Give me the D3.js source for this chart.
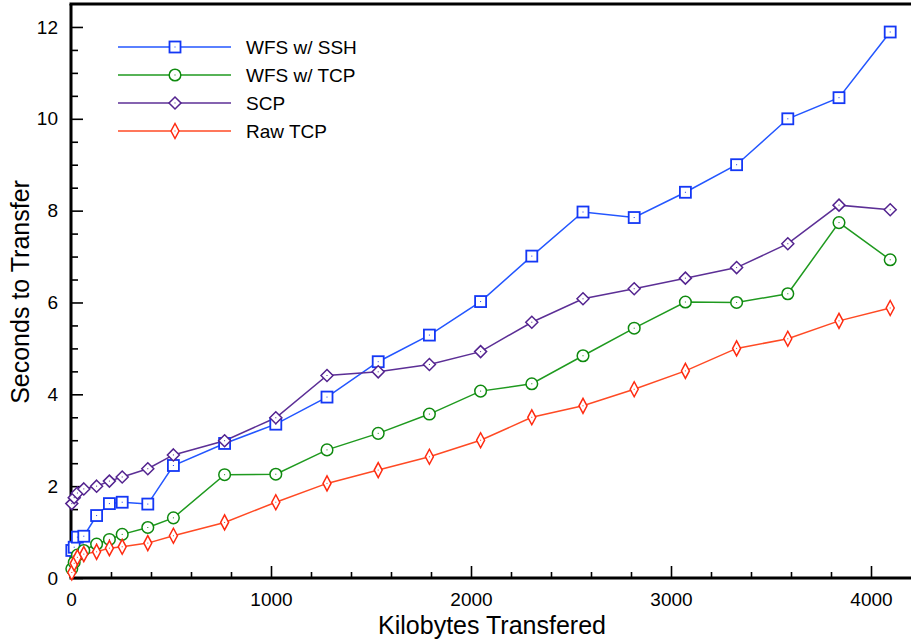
<!DOCTYPE html>
<html>
<head>
<meta charset="utf-8">
<script src="https://cdn.jsdelivr.net/npm/d3@7"></script>
<style>
  body { margin: 0; background: #fff; }
  svg text { font-family: "Liberation Sans", Arial, Helvetica, sans-serif; fill: #000; }
</style>
</head>
<body>
<div id="chart"></div>
<script>
// kilobytes on the x axis
const kilobytes = [4, 16, 32, 64, 128, 192, 256, 384, 512, 768, 1024, 1280, 1536, 1792,
  2048, 2304, 2560, 2816, 3072, 3328, 3584, 3840, 4096];

// seconds for each series
const wfsSsh = [0.6, 0.67, 0.89, 0.91, 1.36, 1.62, 1.65, 1.61, 2.45, 2.93, 3.35, 3.94, 4.71,
  5.29, 6.02, 7.01, 7.97, 7.85, 8.4, 9.0, 10.0, 10.46, 11.89];
const wfsTcp = [0.2, 0.34, 0.5, 0.6, 0.74, 0.84, 0.95, 1.1, 1.31, 2.25, 2.26, 2.79, 3.15,
  3.57, 4.07, 4.23, 4.84, 5.44, 6.01, 6.0, 6.19, 7.74, 6.93];
const scp = [1.62, 1.75, 1.85, 1.94, 2.0, 2.11, 2.2, 2.38, 2.68, 2.99, 3.49, 4.41, 4.49,
  4.65, 4.93, 5.57, 6.08, 6.3, 6.53, 6.76, 7.28, 8.12, 8.02];
const rawTcp = [0.12, 0.32, 0.45, 0.52, 0.57, 0.65, 0.68, 0.76, 0.92, 1.21, 1.65, 2.06, 2.35,
  2.64, 3.0, 3.5, 3.75, 4.11, 4.51, 5.0, 5.21, 5.6, 5.88];

const seriesNames = ["WFS w/ SSH", "WFS w/ TCP", "SCP", "Raw TCP"];
const xMajorTicks = [0, 1000, 2000, 3000, 4000];
const yMajorTicks = [0, 2, 4, 6, 8, 10, 12];

const series = [
  {name: seriesNames[0], values: wfsSsh, color: "#2356ff", markColor: "#1438f5", shape: "square"},
  {name: seriesNames[1], values: wfsTcp, color: "#1f9a1f", markColor: "#0f8a0f", shape: "circle"},
  {name: seriesNames[2], values: scp, color: "#5c2f96", markColor: "#53238f", shape: "diamond"},
  {name: seriesNames[3], values: rawTcp, color: "#ff4a24", markColor: "#ff2a10", shape: "thin"}
];

const width = 912, height = 640;
const margin = {top: 4, right: 1, bottom: 62, left: 71};
const w = width - margin.left - margin.right;
const h = height - margin.top - margin.bottom;

const svg = d3.select("#chart").append("svg")
  .attr("width", width)
  .attr("height", height);

const g = svg.append("g")
  .attr("transform", "translate(" + margin.left + "," + margin.top + ")");

const x = d3.scaleLinear().domain([0, 4200]).range([0, w]);
const y = d3.scaleLinear().domain([0, 12.5]).range([h, 0]);

// minor ticks
g.append("g")
  .attr("transform", "translate(0," + h + ")")
  .call(d3.axisBottom(x).tickValues(d3.range(200, 4200, 200).filter(v => v % 1000 !== 0))
    .tickSize(-6).tickSizeOuter(0).tickFormat(""))
  .call(a => a.select(".domain").remove());
g.append("g")
  .call(d3.axisLeft(y).tickValues(d3.range(0.5, 12.5, 0.5).filter(v => v % 2 !== 0))
    .tickSize(-7).tickSizeOuter(0).tickFormat(""))
  .call(a => a.select(".domain").remove());

// major ticks
const xAxisG = g.append("g")
  .attr("transform", "translate(0," + h + ")")
  .call(d3.axisBottom(x).tickValues(xMajorTicks).tickFormat(d3.format("d"))
    .tickSize(-12).tickSizeOuter(0).tickPadding(15));
xAxisG.select(".domain").remove();
xAxisG.selectAll("text").style("font-size", "19px");

const yAxisG = g.append("g")
  .call(d3.axisLeft(y).tickValues(yMajorTicks).tickFormat(d3.format("d"))
    .tickSize(-12).tickSizeOuter(0).tickPadding(13));
yAxisG.select(".domain").remove();
yAxisG.selectAll("text").style("font-size", "19px");

g.selectAll(".tick line").attr("stroke", "#000").attr("stroke-width", 1.6);

// frame: left, bottom and top
g.append("line").attr("x1", 0).attr("x2", 0).attr("y1", 0).attr("y2", h)
  .attr("stroke", "#000").attr("stroke-width", 3);
g.append("line").attr("x1", -1.5).attr("x2", w).attr("y1", h).attr("y2", h)
  .attr("stroke", "#000").attr("stroke-width", 3);
g.append("line").attr("x1", -1.5).attr("x2", w).attr("y1", 0).attr("y2", 0)
  .attr("stroke", "#000").attr("stroke-width", 3);

// axis labels
svg.append("text")
  .attr("text-anchor", "middle")
  .attr("x", 492)
  .attr("y", 634)
  .style("font-size", "25px")
  .text("Kilobytes Transfered");

svg.append("text")
  .attr("text-anchor", "middle")
  .attr("transform", "rotate(-90)")
  .attr("x", -292)
  .attr("y", 29)
  .style("font-size", "25px")
  .text("Seconds to Transfer");

function drawMarker(sel, shape, color) {
  if (shape === "square") {
    sel.append("rect").attr("x", -5.5).attr("y", -5.5).attr("width", 11).attr("height", 11)
      .attr("fill", "#fff").attr("stroke", color).attr("stroke-width", 1.8);
  } else if (shape === "circle") {
    sel.append("circle").attr("r", 5.8)
      .attr("fill", "#fff").attr("stroke", color).attr("stroke-width", 1.5);
  } else if (shape === "diamond") {
    sel.append("path").attr("d", "M0,-6L6,0L0,6L-6,0Z")
      .attr("fill", "#fff").attr("stroke", color).attr("stroke-width", 1.5);
  } else {
    sel.append("path").attr("d", "M0,-7.5L4,0L0,7.5L-4,0Z")
      .attr("fill", "#fff").attr("stroke", color).attr("stroke-width", 1.5);
  }
  sel.append("rect").attr("x", -0.5).attr("y", -0.5).attr("width", 1).attr("height", 1)
    .attr("fill", color);
}

const line = d3.line()
  .x((d, i) => x(kilobytes[i]))
  .y(d => y(d));

const plot = g.append("g");

series.forEach(s => {
  plot.append("path")
    .datum(s.values)
    .attr("fill", "none")
    .attr("stroke", s.color)
    .attr("stroke-width", 1.5)
    .attr("d", line);
});

series.forEach(s => {
  plot.selectAll(null)
    .data(s.values)
    .join("g")
    .attr("transform", (d, i) => "translate(" + x(kilobytes[i]) + "," + y(d) + ")")
    .each(function () { drawMarker(d3.select(this), s.shape, s.markColor); });
});

// legend
const legend = svg.append("g");
series.forEach((s, i) => {
  const rowY = 47 + i * 28;
  legend.append("line")
    .attr("x1", 118).attr("x2", 231).attr("y1", rowY).attr("y2", rowY)
    .attr("stroke", s.color).attr("stroke-width", 1.5);
  const mk = legend.append("g").attr("transform", "translate(175," + rowY + ")");
  drawMarker(mk, s.shape, s.markColor);
  legend.append("text")
    .attr("x", 246)
    .attr("y", rowY + 7)
    .style("font-size", "19px")
    .text(s.name);
});
</script>
</body>
</html>
